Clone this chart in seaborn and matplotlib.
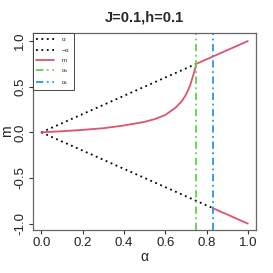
import pandas as pd
import seaborn as sns
import matplotlib
matplotlib.use("Agg")
import matplotlib.pyplot as plt

# values
alpha_pos = [0.0, 0.75]          # dotted  alpha  (up to alpha_s)
alpha_neg = [0.0, 0.833]         # dotted -alpha  (up to alpha_c)
alpha_m = [0.0, 0.1, 0.2, 0.3, 0.4, 0.5, 0.55, 0.6, 0.65, 0.68, 0.7, 0.72,
           0.735, 0.745, 0.75, 1.0]
m_vals = [0.0, 0.012, 0.027, 0.045, 0.075, 0.115, 0.145, 0.19, 0.27, 0.34,
          0.41, 0.51, 0.62, 0.70, 0.75, 1.0]
alpha_low = [0.833, 1.0]
m_low = [-0.833, -1.0]
alpha_s = 0.75
alpha_c = 0.833
x_ticks = [0.0, 0.2, 0.4, 0.6, 0.8, 1.0]
y_ticks = [-1.0, -0.5, 0.0, 0.5, 1.0]
title = "J=0.1,h=0.1"

red = "#DF536B"
green = "#61D04F"
blue = "#2297E6"

sns.set_style("ticks")
plt.rcParams["font.family"] = ["Liberation Sans", "DejaVu Sans"]
plt.rcParams["mathtext.fontset"] = "custom"
plt.rcParams["mathtext.rm"] = "Liberation Sans"
plt.rcParams["mathtext.it"] = "Liberation Sans"

fig = plt.figure(figsize=(2.73, 2.73), dpi=100)
ax = fig.add_axes([0.121, 0.1575, 0.817, 0.7215])

pos = pd.DataFrame({"a": alpha_pos, "v": alpha_pos})
neg = pd.DataFrame({"a": alpha_neg, "v": [-a for a in alpha_neg]})
mdf = pd.DataFrame({"a": alpha_m, "v": m_vals})
low = pd.DataFrame({"a": alpha_low, "v": m_low})

sns.lineplot(data=pos, x="a", y="v", ax=ax, color="black", lw=1.3,
             linestyle=(0, (1, 2)), label=r"$\alpha$")
sns.lineplot(data=neg, x="a", y="v", ax=ax, color="black", lw=1.3,
             linestyle=(0, (1, 2)), label=r"$-\alpha$")
sns.lineplot(data=mdf, x="a", y="v", ax=ax, color=red, lw=1.3, label="m")
sns.lineplot(data=low, x="a", y="v", ax=ax, color=red, lw=1.3)
ax.axvline(alpha_s, color=green, lw=1.3, linestyle=(0, (4, 2, 1, 2)),
           label=r"$\alpha_s$")
ax.axvline(alpha_c, color=blue, lw=1.3, linestyle=(0, (4, 2, 1, 2)),
           label=r"$\alpha_c$")

ax.set_xlim(-0.04, 1.04)
ax.set_ylim(-1.07, 1.088)
ax.set_xticks(x_ticks)
ax.set_xticklabels([f"{t:.1f}" for t in x_ticks])
ax.set_yticks(y_ticks)
ax.set_yticklabels([f"{t:.1f}" for t in y_ticks], rotation=90, va="center")
ax.tick_params(labelsize=9.5, length=3, width=0.8, colors="#333333",
               labelcolor="#222222")
ax.tick_params(axis="x", pad=2)
ax.tick_params(axis="y", pad=2)
for s in ax.spines.values():
    s.set_color("#666666")
    s.set_linewidth(0.9)

ax.set_xlabel(r"$\alpha$", fontsize=10, labelpad=1, color="#222222")
ax.set_ylabel("m", fontsize=10, labelpad=0, color="#222222")
ax.set_title(title, fontsize=10.5, fontweight="bold", pad=8)

leg = ax.legend(loc="upper left", borderaxespad=0, fontsize=4.5,
                fancybox=False, framealpha=1, edgecolor="#444444",
                handlelength=2.8, labelspacing=0.6, borderpad=0.55,
                handletextpad=1.2)
leg.get_frame().set_linewidth(0.7)

fig.savefig("out.png", dpi=100)
